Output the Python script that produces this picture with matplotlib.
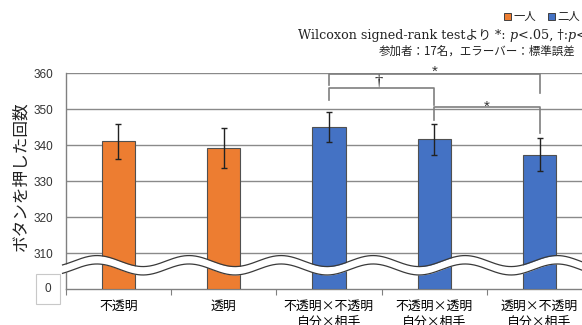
import numpy as np
import matplotlib
matplotlib.use("Agg")
import matplotlib.pyplot as plt
from matplotlib.patches import Rectangle

plt.rcParams['font.family'] = ['Noto Sans CJK JP', 'DejaVu Sans']

# ---- data ----
categories = ['不透明', '透明', '不透明×不透明\n自分×相手', '不透明×透明\n自分×相手', '透明×不透明\n自分×相手']
means = [341.1, 339.2, 345.1, 341.6, 337.3]
errors = [4.8, 5.5, 4.2, 4.4, 4.6]
groups = ['一人', '一人', '二人', '二人', '二人']
group_names = ['一人', '二人']
group_colors = {'一人': '#ED7D31', '二人': '#4472C4'}
yticks = [310, 320, 330, 340, 350, 360]
ytick_labels = ['310', '320', '330', '340', '350', '360']
# comparisons: (i, j, mark, bracket height, left leg bottom, right leg bottom, mark baseline)
comparisons = [(2, 4, '*', 359.8, 356.7, 354.4, 359.3),
               (2, 3, '†', 355.9, 352.5, 351.2, 356.5),
               (3, 4, '*', 350.7, 347.0, 343.3, 349.5)]

W, H = 582, 325
fig = plt.figure(figsize=(W / 100, H / 100), dpi=100)
ax_left, ax_right, ax_top, ax_bot = 65.7, 592.2, 73.3, 289.0
ax = fig.add_axes([ax_left / W, 1 - ax_bot / H, (ax_right - ax_left) / W, (ax_bot - ax_top) / H])

x = np.arange(len(categories))
colors = [group_colors[g] for g in groups]
ax.bar(x, [m - 300 for m in means], bottom=300, width=0.315, color=colors,
       edgecolor='#505050', linewidth=0.8, zorder=3)
ax.errorbar(x, means, yerr=errors, fmt='none', ecolor='#222222', elinewidth=1.0,
            capsize=2.5, capthick=1.0, zorder=4)

ax.set_xlim(-0.5, 4.5)
ax.set_ylim(300, 360)
ax.set_yticks(yticks)
ax.set_yticklabels(ytick_labels, fontsize=8.5, family=['Liberation Sans', 'DejaVu Sans'], color='#333333')
ax.tick_params(axis='y', length=0, pad=9)
ax.set_xticks(x)
ax.set_xticklabels(categories, fontsize=9.3, linespacing=1.3, multialignment='center')
ax.set_xticks(np.arange(-0.5, 5.0, 1.0), minor=True)
ax.tick_params(axis='x', which='major', length=0, pad=8)
ax.tick_params(axis='x', which='minor', length=4, color='#808080', width=0.8)
ax.grid(axis='y', color='#8a8a8a', linewidth=1.0, zorder=0)
ax.set_axisbelow(True)
for s in ['top', 'right']:
    ax.spines[s].set_visible(False)
for s in ['left', 'bottom']:
    ax.spines[s].set_color('#808080')
    ax.spines[s].set_linewidth(1.0)

# wavy axis break band
xs = np.linspace(-0.53, 4.6, 800)
yc = 306.6 + 1.53 * np.cos(2 * np.pi * (xs + 0.203) / 0.874)
ax.fill_between(xs, yc - 1.17, yc + 1.17, color='white', zorder=6, clip_on=False, linewidth=0)
ax.plot(xs, yc - 1.17, color='#3a3a3a', lw=0.9, zorder=7, clip_on=False)
ax.plot(xs, yc + 1.17, color='#3a3a3a', lw=0.9, zorder=7, clip_on=False)

# "0" label box for the broken axis
fig.text(48.3 / W, 1 - 289 / H, '0', ha='center', va='center', fontsize=8.5,
         family=['Liberation Sans', 'DejaVu Sans'], color='#333333',
         bbox=dict(boxstyle='square,pad=0.75', facecolor='white', edgecolor='#c8c8c8', linewidth=0.8))

# significance brackets
for (i, j, mark, hy, ly, ry, ty) in comparisons:
    ax.plot([i, i, j, j], [ly, hy, hy, ry], color='#7f7f7f', lw=1.2, zorder=5, clip_on=False)
    if mark == '†':
        ax.text((i + j) / 2 - 0.03, ty, mark, ha='center', va='baseline', fontsize=12,
                family=['Liberation Serif', 'DejaVu Serif'], color='#222222', clip_on=False)
    else:
        ax.text((i + j) / 2, ty, mark, ha='center', va='baseline', fontsize=11,
                family=['Liberation Sans', 'DejaVu Sans'], color='#333333', clip_on=False)

# y label
fig.text(21 / W, 1 - 176 / H, 'ボタンを押した回数', rotation=90, ha='center', va='center',
         fontsize=12, color='#222222')

# legend (manual)
sq = 7.0
for name, lx in zip(group_names, [503.5, 548.0]):
    fig.add_artist(Rectangle((lx / W, 1 - 20.0 / H), sq / W, sq / H, transform=fig.transFigure,
                             facecolor=group_colors[name], edgecolor='#404040', linewidth=0.7))
    fig.text((lx + 9.5) / W, 1 - 16.5 / H, name, ha='left', va='center', fontsize=8.2, color='#222222')

# annotation lines
fig.canvas.draw()
renderer = fig.canvas.get_renderer()
pieces = [('Wilcoxon signed-rank testより *: ', 'normal'), ('p', 'italic'), ('<.05, †:', 'normal'),
          ('p', 'italic'), ('<.1', 'normal')]
cx = 298.0
for txt, style in pieces:
    t = fig.text(cx / W, 1 - 35.5 / H, txt, ha='left', va='center', fontsize=9.2, style=style,
                 family=['DejaVu Serif', 'Noto Sans CJK JP'], color='#222222')
    bb = t.get_window_extent(renderer)
    cx += bb.width
fig.text(379 / W, 1 - 51.7 / H, '参加者：17名，エラーバー：標準誤差', ha='left', va='center',
         fontsize=8.3, color='#222222')

fig.savefig('out.png', dpi=100)
